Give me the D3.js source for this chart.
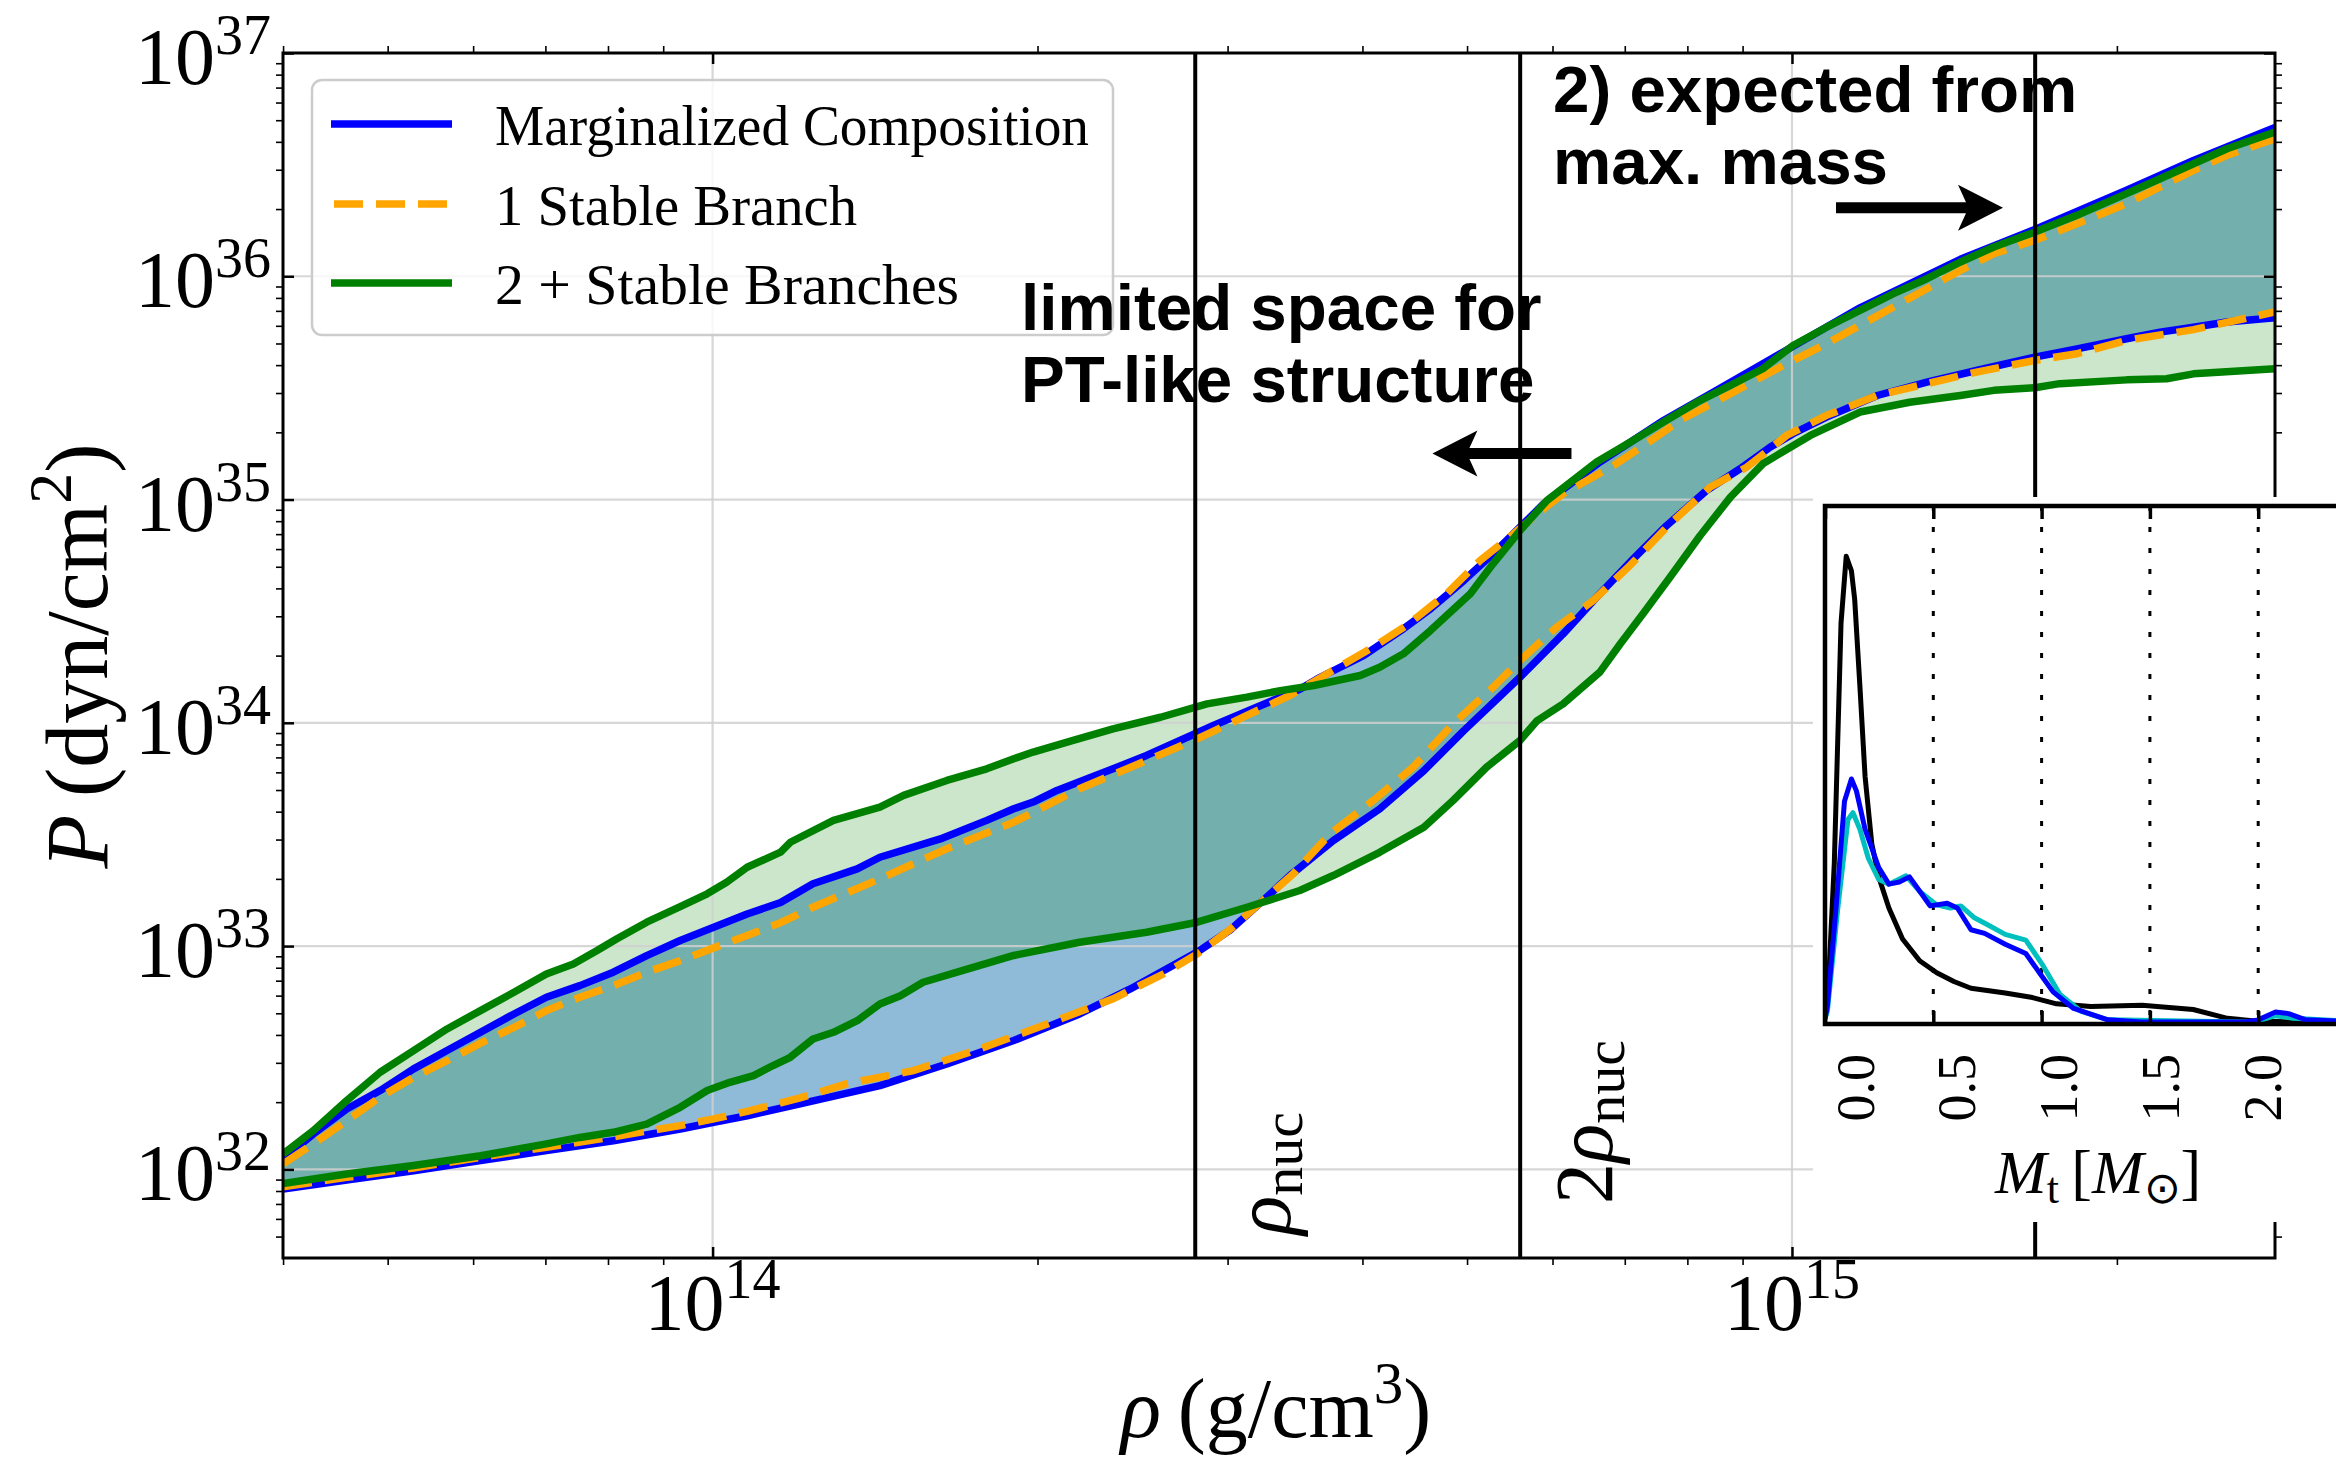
<!DOCTYPE html>
<html><head><meta charset="utf-8">
<script src="https://cdn.jsdelivr.net/npm/d3@7"></script>
<style>body{margin:0;background:#fff}svg{display:block}</style>
</head><body>
<svg id="c" width="2336" height="1459"></svg>
<script>
// ---------- data (log10 rho [g/cm^3], log10 P [dyn/cm^2]) ----------
const xDomainLog = [13.602, 15.4475];
const yDomainLog = [31.603, 37];
const xMajorExps = [14, 15];
const yMajorExps = [32, 33, 34, 35, 36, 37];
const densityMarkers = [2.8e14, 5.6e14, 1.68e15];
const legendLabels = ["Marginalized Composition", "1 Stable Branch", "2 + Stable Branches"];

const blueUpper = [[13.602,32.046],[13.630,32.158],[13.661,32.270],[13.692,32.353],[13.723,32.450],[13.754,32.532],[13.785,32.614],[13.816,32.696],[13.846,32.771],[13.877,32.823],[13.908,32.883],[13.939,32.957],[13.970,33.025],[14.001,33.084],[14.032,33.144],[14.063,33.195],[14.093,33.279],[14.134,33.346],[14.155,33.398],[14.211,33.480],[14.254,33.563],[14.279,33.615],[14.297,33.645],[14.319,33.697],[14.371,33.794],[14.402,33.854],[14.433,33.921],[14.464,33.988],[14.504,34.070],[14.544,34.150],[14.563,34.204],[14.603,34.301],[14.640,34.421],[14.665,34.510],[14.696,34.637],[14.723,34.757],[14.748,34.876],[14.770,34.981],[14.822,35.168],[14.881,35.354],[14.927,35.481],[14.973,35.608],[15.063,35.859],[15.156,36.076],[15.225,36.210],[15.310,36.385],[15.372,36.519],[15.4475,36.666]];
const blueLower = [[13.602,31.912],[13.661,31.952],[13.723,31.994],[13.785,32.039],[13.846,32.084],[13.908,32.128],[13.970,32.181],[14.001,32.211],[14.032,32.240],[14.081,32.293],[14.155,32.375],[14.217,32.472],[14.279,32.577],[14.340,32.696],[14.387,32.808],[14.418,32.891],[14.449,32.973],[14.479,33.070],[14.510,33.204],[14.535,33.316],[14.575,33.472],[14.618,33.614],[14.659,33.786],[14.696,33.965],[14.748,34.204],[14.788,34.398],[14.822,34.578],[14.853,34.734],[14.884,34.884],[14.921,35.041],[14.952,35.138],[14.980,35.235],[15.001,35.295],[15.032,35.369],[15.079,35.466],[15.125,35.526],[15.171,35.578],[15.225,35.638],[15.264,35.675],[15.310,35.720],[15.341,35.750],[15.372,35.772],[15.403,35.795],[15.4475,35.814]];
const orangeUpper = [[13.602,32.024],[13.630,32.114],[13.661,32.218],[13.692,32.323],[13.723,32.412],[13.754,32.487],[13.785,32.565],[13.816,32.636],[13.846,32.711],[13.877,32.771],[13.908,32.823],[13.939,32.883],[13.970,32.935],[14.001,32.992],[14.032,33.047],[14.063,33.105],[14.093,33.174],[14.155,33.301],[14.217,33.436],[14.279,33.555],[14.340,33.705],[14.402,33.831],[14.449,33.928],[14.495,34.033],[14.535,34.123],[14.572,34.227],[14.612,34.339],[14.643,34.436],[14.680,34.578],[14.711,34.727],[14.742,34.846],[14.764,34.936],[14.788,35.026],[14.835,35.153],[14.865,35.250],[14.896,35.354],[14.943,35.474],[14.970,35.545],[15.001,35.623],[15.032,35.698],[15.063,35.780],[15.094,35.862],[15.125,35.944],[15.156,36.026],[15.187,36.101],[15.225,36.161],[15.264,36.235],[15.310,36.325],[15.341,36.400],[15.372,36.474],[15.403,36.542],[15.4475,36.616]];
const orangeLower = [[13.602,31.922],[13.661,31.964],[13.723,32.006],[13.785,32.054],[13.846,32.099],[13.908,32.146],[13.970,32.196],[14.001,32.226],[14.032,32.260],[14.081,32.320],[14.124,32.383],[14.186,32.442],[14.248,32.540],[14.310,32.651],[14.371,32.764],[14.418,32.876],[14.449,32.965],[14.479,33.073],[14.510,33.204],[14.538,33.324],[14.572,33.502],[14.612,33.652],[14.649,33.801],[14.686,33.995],[14.723,34.159],[14.748,34.279],[14.782,34.428],[14.816,34.548],[14.850,34.705],[14.887,34.891],[14.924,35.055],[14.958,35.145],[14.970,35.190],[14.995,35.287],[15.032,35.377],[15.079,35.466],[15.125,35.519],[15.171,35.571],[15.225,35.623],[15.264,35.653],[15.310,35.713],[15.372,35.761],[15.4475,35.840]];
const greenUpper = [[13.602,32.069],[13.630,32.173],[13.661,32.308],[13.692,32.435],[13.723,32.532],[13.754,32.629],[13.785,32.711],[13.816,32.793],[13.846,32.875],[13.871,32.920],[13.893,32.980],[13.911,33.032],[13.939,33.107],[13.970,33.177],[13.995,33.234],[14.013,33.286],[14.032,33.353],[14.063,33.421],[14.072,33.465],[14.112,33.563],[14.155,33.622],[14.177,33.675],[14.217,33.742],[14.254,33.794],[14.279,33.839],[14.297,33.869],[14.334,33.921],[14.371,33.973],[14.415,34.025],[14.458,34.085],[14.495,34.115],[14.526,34.144],[14.557,34.167],[14.600,34.212],[14.618,34.249],[14.640,34.309],[14.665,34.413],[14.702,34.578],[14.723,34.712],[14.748,34.861],[14.773,34.996],[14.819,35.168],[14.850,35.257],[14.881,35.347],[14.912,35.436],[14.943,35.511],[14.973,35.586],[15.001,35.690],[15.032,35.772],[15.063,35.847],[15.094,35.922],[15.125,35.989],[15.156,36.064],[15.187,36.131],[15.225,36.198],[15.264,36.273],[15.310,36.370],[15.341,36.437],[15.372,36.504],[15.403,36.571],[15.4475,36.646]];
const greenLower = [[13.602,31.937],[13.661,31.979],[13.723,32.017],[13.785,32.061],[13.846,32.114],[13.877,32.143],[13.908,32.166],[13.939,32.203],[13.970,32.278],[13.995,32.353],[14.016,32.390],[14.038,32.420],[14.056,32.465],[14.072,32.502],[14.093,32.584],[14.112,32.614],[14.134,32.666],[14.155,32.741],[14.174,32.778],[14.195,32.838],[14.232,32.891],[14.279,32.958],[14.340,33.017],[14.402,33.062],[14.449,33.107],[14.495,33.174],[14.520,33.212],[14.544,33.249],[14.575,33.316],[14.618,33.420],[14.659,33.532],[14.686,33.652],[14.717,33.801],[14.748,33.921],[14.764,34.010],[14.788,34.085],[14.822,34.227],[14.841,34.354],[14.862,34.488],[14.887,34.652],[14.915,34.839],[14.943,35.011],[14.973,35.160],[14.986,35.198],[15.017,35.287],[15.063,35.392],[15.109,35.436],[15.156,35.466],[15.187,35.489],[15.225,35.501],[15.248,35.519],[15.310,35.536],[15.347,35.541],[15.372,35.563],[15.4475,35.586]];

// inset: transition mass M_t [M_sun] vs. probability density (relative)
const insetTicks = [0.0, 0.5, 1.0, 1.5, 2.0];
const insetBlack = [[0.0,0.02],[0.011,0.034],[0.043,0.311],[0.074,0.774],[0.098,0.903],[0.122,0.875],[0.137,0.82],[0.161,0.653],[0.185,0.478],[0.216,0.348],[0.248,0.284],[0.295,0.224],[0.358,0.164],[0.437,0.122],[0.516,0.099],[0.595,0.082],[0.674,0.069],[0.832,0.060],[0.958,0.051],[1.069,0.039],[1.227,0.034],[1.464,0.036],[1.700,0.028],[1.858,0.011],[1.985,0.006],[2.17,0.004],[2.5,0.003]];
const insetBlue = [[0.0,0.01],[0.011,0.034],[0.05,0.219],[0.09,0.43],[0.122,0.473],[0.145,0.45],[0.185,0.376],[0.248,0.302],[0.295,0.27],[0.343,0.274],[0.39,0.284],[0.453,0.247],[0.485,0.228],[0.564,0.233],[0.611,0.224],[0.674,0.182],[0.737,0.175],[0.832,0.154],[0.927,0.136],[0.99,0.099],[1.053,0.062],[1.148,0.03],[1.306,0.008],[1.46,0.004],[1.94,0.004],[2.0,0.008],[2.08,0.023],[2.14,0.02],[2.22,0.008],[2.5,0.004]];
const insetCyan = [[0.0,0.01],[0.011,0.025],[0.058,0.219],[0.106,0.395],[0.129,0.408],[0.161,0.376],[0.2,0.32],[0.248,0.279],[0.295,0.27],[0.374,0.286],[0.437,0.256],[0.516,0.23],[0.579,0.224],[0.627,0.228],[0.69,0.205],[0.753,0.191],[0.832,0.173],[0.927,0.162],[1.006,0.113],[1.085,0.057],[1.18,0.025],[1.306,0.008],[1.94,0.004],[2.0,0.006],[2.08,0.016],[2.16,0.011],[2.5,0.004]];

// annotation anchors (log10 rho, log10 P)
const note1 = {lines:["limited space for","PT-like structure"], at:[14.2858, 35.758]};
const note2 = {lines:["2) expected from","max. mass"], at:[14.7786, 36.736]};
const arrow1 = {from:[14.7957, 35.206], to:[14.6669, 35.206]};
const arrow2 = {from:[15.0408, 36.307], to:[15.1955, 36.307]};

// ---------- drawing ----------
const svg = d3.select('#c');
const M = {left:283, right:2275, top:53, bottom:1258};
const x = d3.scaleLog().domain([10**xDomainLog[0], 10**xDomainLog[1]]).range([M.left, M.right]);
const y = d3.scaleLog().domain([10**yDomainLog[0], 10**yDomainLog[1]]).range([M.bottom, M.top]);
const X = d => x(10**d[0]), Y = d => y(10**d[1]);
const SERIF = "'Liberation Serif','Times New Roman',serif";
const SANS = "'Liberation Sans',Arial,Helvetica,sans-serif";

svg.append('rect').attr('width',2336).attr('height',1459).attr('fill','#fff');
svg.append('defs').append('clipPath').attr('id','plotclip').append('rect')
  .attr('x',M.left).attr('y',M.top).attr('width',M.right-M.left).attr('height',M.bottom-M.top);

const plot = svg.append('g').attr('clip-path','url(#plotclip)');
const line = d3.line().x(X).y(Y);
const band = (u,l) => line(u.concat(l.slice().reverse())) + 'Z';

plot.append('path').attr('d', band(blueUpper, blueLower)).attr('fill','#1f77b4').attr('fill-opacity',0.5);
plot.append('path').attr('d', band(greenUpper, greenLower)).attr('fill','#008000').attr('fill-opacity',0.2);

// grid
const xMajor = xMajorExps.map(e => 10**e), yMajor = yMajorExps.map(e => 10**e);
plot.selectAll('.gx').data(xMajor).join('line').attr('x1',d=>x(d)).attr('x2',d=>x(d))
  .attr('y1',M.top).attr('y2',M.bottom).attr('stroke','#d0d0d0').attr('stroke-opacity',0.85).attr('stroke-width',2.2);
plot.selectAll('.gy').data(yMajor).join('line').attr('y1',d=>y(d)).attr('y2',d=>y(d))
  .attr('x1',M.left).attr('x2',M.right).attr('stroke','#d0d0d0').attr('stroke-opacity',0.85).attr('stroke-width',2.2);

// curves
const LW = 7.5;
[blueUpper, blueLower].forEach(c => plot.append('path').attr('d', line(c)).attr('fill','none')
  .attr('stroke','#0000ff').attr('stroke-width',LW).attr('stroke-linejoin','round'));
[orangeUpper, orangeLower].forEach(c => plot.append('path').attr('d', line(c)).attr('fill','none')
  .attr('stroke','#ffa500').attr('stroke-width',LW).attr('stroke-dasharray','29,13'));
[greenUpper, greenLower].forEach(c => plot.append('path').attr('d', line(c)).attr('fill','none')
  .attr('stroke','#008000').attr('stroke-width',LW).attr('stroke-linejoin','round'));

// vertical density markers
plot.selectAll('.vm').data(densityMarkers).join('line')
  .attr('x1',d=>x(d)).attr('x2',d=>x(d)).attr('y1',M.top).attr('y2',M.bottom)
  .attr('stroke','#000').attr('stroke-width',4);

// axes ticks
const minorOf = (lo, hi) => { const out=[]; for (let e=Math.floor(lo); e<=Math.ceil(hi); e++) for (let m=2;m<=9;m++){ const l=e+Math.log10(m); if (l>=lo-1e-9 && l<=hi+1e-9) out.push(10**l);} return out; };
const xMinor = minorOf(xDomainLog[0], xDomainLog[1]);
const yMinor = minorOf(yDomainLog[0], yDomainLog[1]);
const styleAxis = (g, w) => { g.select('.domain').remove(); g.selectAll('line').attr('stroke','#000').attr('stroke-width',w); g.selectAll('text').remove(); };
const axG = svg.append('g');
axG.append('g').attr('transform',`translate(0,${M.bottom})`).call(d3.axisBottom(x).tickValues(xMajor).tickSize(-11).tickSizeOuter(0).tickFormat('')).call(g=>styleAxis(g,2.5));
axG.append('g').attr('transform',`translate(0,${M.bottom})`).call(d3.axisBottom(x).tickValues(xMinor).tickSize(7).tickSizeOuter(0).tickFormat('')).call(g=>styleAxis(g,1.6));
axG.append('g').attr('transform',`translate(0,${M.top})`).call(d3.axisTop(x).tickValues(xMajor).tickSize(-11).tickSizeOuter(0).tickFormat('')).call(g=>styleAxis(g,2.5));
axG.append('g').attr('transform',`translate(0,${M.top})`).call(d3.axisTop(x).tickValues(xMinor).tickSize(7).tickSizeOuter(0).tickFormat('')).call(g=>styleAxis(g,1.6));
axG.append('g').attr('transform',`translate(${M.left},0)`).call(d3.axisLeft(y).tickValues(yMajor).tickSize(-11).tickSizeOuter(0).tickFormat('')).call(g=>styleAxis(g,2.5));
axG.append('g').attr('transform',`translate(${M.left},0)`).call(d3.axisLeft(y).tickValues(yMinor).tickSize(7).tickSizeOuter(0).tickFormat('')).call(g=>styleAxis(g,1.6));
axG.append('g').attr('transform',`translate(${M.right},0)`).call(d3.axisRight(y).tickValues(yMajor).tickSize(-11).tickSizeOuter(0).tickFormat('')).call(g=>styleAxis(g,2.5));
axG.append('g').attr('transform',`translate(${M.right},0)`).call(d3.axisRight(y).tickValues(yMinor).tickSize(7).tickSizeOuter(0).tickFormat('')).call(g=>styleAxis(g,1.6));
axG.append('rect').attr('x',M.left).attr('y',M.top).attr('width',M.right-M.left).attr('height',M.bottom-M.top)
  .attr('fill','none').attr('stroke','#000').attr('stroke-width',3);

// tick labels
const pow10 = (sel, exp, fs, shift) => { sel.append('tspan').text('10'); sel.append('tspan').attr('dy',-shift).attr('font-size',fs*0.7).text(exp); };
xMajorExps.forEach(e => { const t = svg.append('text').attr('x',x(10**e)).attr('y',1330).attr('text-anchor','middle')
  .attr('font-family',SERIF).attr('font-size',80); pow10(t, e, 80, 32); });
yMajorExps.forEach(e => { const t = svg.append('text').attr('x',271).attr('y',y(10**e)+31).attr('text-anchor','end')
  .attr('font-family',SERIF).attr('font-size',80); pow10(t, e, 80, 30); });

// axis labels
const xl = svg.append('text').attr('x',1276).attr('y',1437).attr('text-anchor','middle').attr('font-family',SERIF).attr('font-size',84);
xl.append('tspan').attr('font-style','italic').text('ρ');
xl.append('tspan').text('\u2009(g/cm');
xl.append('tspan').attr('dy',-34).attr('font-size',59).text('3');
xl.append('tspan').attr('dy',34).text(')');
const yl = svg.append('text').attr('transform','translate(107,656) rotate(-90)').attr('text-anchor','middle').attr('font-family',SERIF).attr('font-size',88);
yl.append('tspan').attr('font-style','italic').text('P');
yl.append('tspan').text('\u2009(dyn/cm');
yl.append('tspan').attr('dy',-36).attr('font-size',62).text('2');
yl.append('tspan').attr('dy',36).text(')');

// marker labels
const rl = (tx, ty, pre) => { const t = svg.append('text').attr('transform',`translate(${tx},${ty}) rotate(-90)`).attr('font-family',SERIF).attr('font-size',82);
  if (pre) t.append('tspan').text(pre);
  t.append('tspan').attr('font-style','italic').text('ρ');
  t.append('tspan').attr('dy',12).attr('font-size',58).text('nuc'); };
rl(1290, 1235, '');
rl(1612, 1204, '2');

// legend
const lg = svg.append('g');
lg.append('rect').attr('x',312).attr('y',80).attr('width',801).attr('height',255).attr('rx',10)
  .attr('fill','#fff').attr('fill-opacity',0.8).attr('stroke','#cccccc').attr('stroke-width',2.5);
const legStyles = [{c:'#0000ff',dash:null,y:124,w:594},{c:'#ffa500',dash:'29,13',y:204,w:362},{c:'#008000',dash:null,y:283,w:464}];
legStyles.forEach((s,i) => {
  lg.append('line').attr('x1', s.dash?334:331).attr('x2', s.dash?448:452).attr('y1',s.y).attr('y2',s.y)
    .attr('stroke',s.c).attr('stroke-width',7.5).attr('stroke-dasharray',s.dash);
  lg.append('text').attr('x',495).attr('y',s.y+21).attr('font-family',SERIF).attr('font-size',57)
    .attr('textLength',s.w).attr('lengthAdjust','spacingAndGlyphs').text(legendLabels[i]);
});

// annotations
const note = n => { const t = svg.append('text').attr('x',X(n.at)).attr('y',Y(n.at)).attr('font-family',SANS)
  .attr('font-weight','bold').attr('font-size',65.5);
  n.lines.forEach((s,i)=> t.append('tspan').attr('x',X(n.at)).attr('dy', i?71.7:0).text(s)); };
note(note1); note(note2);
const arrowPath = a => { const x0=X(a.from), x1=X(a.to), yy=Y(a.from), s=Math.sign(x0-x1);
  const hw=5.5, hl=45, hh=23, nl=37;
  return `M${x1},${yy} L${x1+s*hl},${yy-hh} L${x1+s*nl},${yy-hw} L${x0},${yy-hw} L${x0},${yy+hw} L${x1+s*nl},${yy+hw} L${x1+s*hl},${yy+hh} Z`; };
[arrow1, arrow2].forEach(a => svg.append('path').attr('d',arrowPath(a)).attr('fill','#000'));

// ---------- inset ----------
svg.append('rect').attr('x',1813).attr('y',497).attr('width',560).attr('height',725).attr('fill','#fff');
const I = {left:1825, top:506, bottom:1024};
const ix = d3.scaleLinear().domain([0,0.5]).range([I.left, 1933.3]);
const iy = d3.scaleLinear().domain([0,1]).range([I.bottom, I.top]);
const ilabel = d3.scaleLinear().domain([0,2]).range([1854.5, 2261.5]);
svg.append('defs').append('clipPath').attr('id','iclip').append('rect')
  .attr('x',I.left).attr('y',I.top).attr('width',600).attr('height',I.bottom-I.top);
const ig = svg.append('g');
const inner = ig.append('g').attr('clip-path','url(#iclip)');
inner.selectAll('.ig').data(insetTicks.slice(1)).join('line').attr('x1',d=>ix(d)).attr('x2',d=>ix(d))
  .attr('y1',I.top).attr('y2',I.bottom).attr('stroke','#000').attr('stroke-width',3).attr('stroke-dasharray','5,16');
ig.append('g').attr('transform',`translate(0,${I.bottom})`).call(d3.axisBottom(ix).tickValues(insetTicks).tickSize(-13).tickSizeOuter(0).tickFormat('')).call(g=>styleAxis(g,3.5));
ig.append('g').attr('transform',`translate(0,${I.top})`).call(d3.axisTop(ix).tickValues(insetTicks).tickSize(-13).tickSizeOuter(0).tickFormat('')).call(g=>styleAxis(g,3.5));
const iline = d3.line().x(d=>ix(d[0])).y(d=>iy(d[1]));
[[insetBlack,'#000'],[insetCyan,'#00bfbf'],[insetBlue,'#0000ff']].forEach(([c,col]) =>
  inner.append('path').attr('d',iline(c)).attr('fill','none').attr('stroke',col).attr('stroke-width',5).attr('stroke-linejoin','round'));
ig.append('rect').attr('x',I.left).attr('y',I.top).attr('width',620).attr('height',I.bottom-I.top)
  .attr('fill','none').attr('stroke','#000').attr('stroke-width',4.5);
insetTicks.forEach(v => svg.append('text').attr('transform',`translate(${ilabel(v)+19},1054) rotate(-90)`)
  .attr('text-anchor','end').attr('font-family',SERIF).attr('font-size',54).text(v.toFixed(1)));
const ml = svg.append('text').attr('x',1995).attr('y',1193).attr('font-family',SERIF).attr('font-size',62);
ml.append('tspan').attr('font-style','italic').text('M');
ml.append('tspan').attr('dy',10).attr('font-size',44).text('t');
ml.append('tspan').attr('dy',-10).text('\u2009[');
ml.append('tspan').attr('font-style','italic').text('M');
ml.append('tspan').attr('dy',10).attr('font-size',44).text('⊙');
ml.append('tspan').attr('dy',-10).text(']');
</script></body></html>
